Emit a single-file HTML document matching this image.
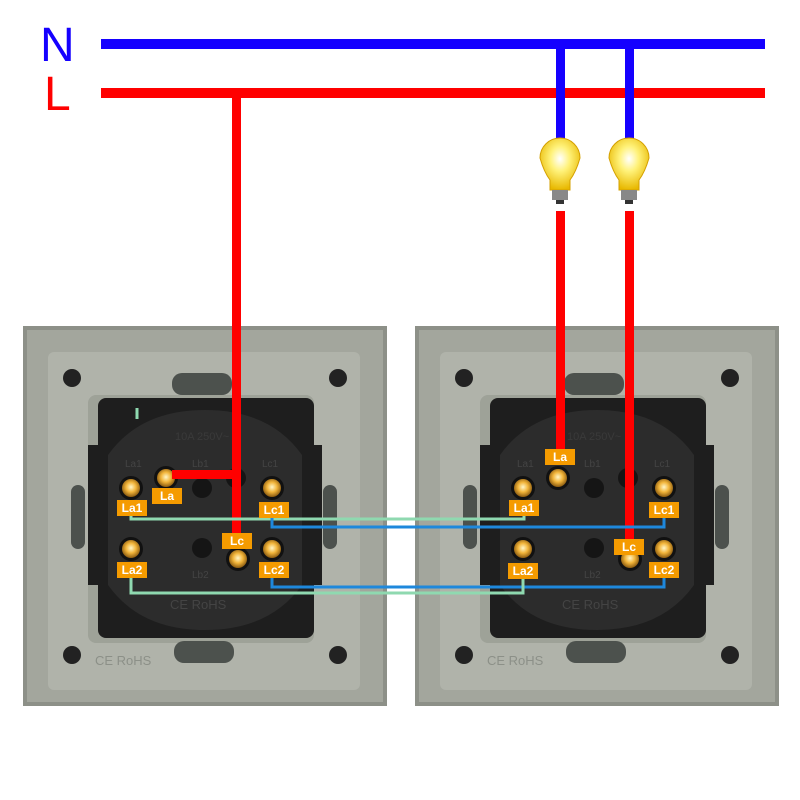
<!DOCTYPE html>
<html><head><meta charset="utf-8"><style>
html,body{margin:0;padding:0;background:#fff;}
svg{display:block;}
</style></head><body>
<svg width="800" height="800" viewBox="0 0 800 800" xmlns="http://www.w3.org/2000/svg" font-family="Liberation Sans, sans-serif">
<defs>
<radialGradient id="scr" cx="50%" cy="45%" r="55%"><stop offset="0" stop-color="#fff6c8"/><stop offset="0.5" stop-color="#f2b53a"/><stop offset="1" stop-color="#8a5a10"/></radialGradient>
<radialGradient id="bulb" cx="50%" cy="40%" r="60%"><stop offset="0" stop-color="#ffffff"/><stop offset="0.4" stop-color="#fff27a"/><stop offset="1" stop-color="#e8b800"/></radialGradient>
<g id="panel">
  <rect x="23" y="326" width="364" height="380" fill="#8d9088"/>
  <rect x="27" y="330" width="356" height="372" fill="#a3a69d"/>
  <rect x="48" y="352" width="312" height="338" rx="6" fill="#b0b3aa"/>
  <rect x="88" y="395" width="226" height="248" rx="8" fill="#9ea298"/>
  <circle cx="72" cy="378" r="9" fill="#222"/>
  <circle cx="338" cy="378" r="9" fill="#222"/>
  <circle cx="72" cy="655" r="9" fill="#222"/>
  <circle cx="338" cy="655" r="9" fill="#222"/>
  <rect x="172" y="373" width="60" height="22" rx="10" fill="#4c514d"/>
  <rect x="174" y="641" width="60" height="22" rx="10" fill="#4c514d"/>
  <rect x="71" y="485" width="14" height="64" rx="7" fill="#4c514d"/>
  <rect x="323" y="485" width="14" height="64" rx="7" fill="#4c514d"/>
  <rect x="98" y="398" width="216" height="240" rx="8" fill="#1e1e1e"/>
  <rect x="88" y="445" width="12" height="140" fill="#1e1e1e"/>
  <rect x="310" y="445" width="12" height="140" fill="#1e1e1e"/>
  <path d="M108 455 Q140 410 205 410 Q270 410 302 455 L302 585 Q270 630 205 630 Q140 630 108 585 Z" fill="#2c2c2c"/>
  <text x="175" y="440" font-size="11" fill="#3a3a3a">10A 250V~</text>
  <text x="125" y="467" font-size="10" fill="#444">La1</text>
  <text x="192" y="467" font-size="10" fill="#444">Lb1</text>
  <text x="262" y="467" font-size="10" fill="#444">Lc1</text>
  <text x="192" y="578" font-size="10" fill="#444">Lb2</text>
  <text x="170" y="609" font-size="13" fill="#444">CE RoHS</text>
  <text x="95" y="665" font-size="13" fill="#8c9088">CE RoHS</text>
  <circle cx="202" cy="488" r="10" fill="#151515"/>
  <circle cx="202" cy="548" r="10" fill="#151515"/>
  <circle cx="236" cy="478" r="10" fill="#151515"/>
  <circle cx="131" cy="488" r="12" fill="#111"/><circle cx="131" cy="488" r="9" fill="url(#scr)"/>
  <circle cx="166" cy="478" r="12" fill="#111"/><circle cx="166" cy="478" r="9" fill="url(#scr)"/>
  <circle cx="272" cy="488" r="12" fill="#111"/><circle cx="272" cy="488" r="9" fill="url(#scr)"/>
  <circle cx="131" cy="549" r="12" fill="#111"/><circle cx="131" cy="549" r="9" fill="url(#scr)"/>
  <circle cx="238" cy="559" r="12" fill="#111"/><circle cx="238" cy="559" r="9" fill="url(#scr)"/>
  <circle cx="272" cy="549" r="12" fill="#111"/><circle cx="272" cy="549" r="9" fill="url(#scr)"/>
</g>
<g id="bulbg">
  <path d="M-20 -12 A20 20 0 1 1 20 -12 Q16 2 10 10 L10 20 L-10 20 L-10 10 Q-16 2 -20 -12 Z" fill="url(#bulb)" stroke="#d4a000" stroke-width="1"/>
  <rect x="-8" y="20" width="16" height="10" fill="#888"/>
  <rect x="-4" y="30" width="8" height="4" fill="#333"/>
</g>
</defs>

<text x="40" y="61" font-size="48" fill="#1500ff">N</text>
<text x="44" y="110" font-size="48" fill="#ff0000">L</text>

<use href="#panel"/>
<use href="#panel" x="392"/>

<rect x="101" y="39" width="664" height="10" fill="#1500ff"/>
<rect x="101" y="88" width="664" height="10" fill="#ff0000"/>
<rect x="556" y="44" width="9" height="100" fill="#1500ff"/>
<rect x="625" y="44" width="9" height="100" fill="#1500ff"/>
<use href="#bulbg" x="560" y="170"/>
<use href="#bulbg" x="629" y="170"/>

<rect x="232" y="93" width="9" height="440" fill="#ff0000"/>
<rect x="172" y="470" width="66" height="9" fill="#ff0000"/>
<rect x="556" y="211" width="9" height="240" fill="#ff0000"/>
<rect x="625" y="211" width="9" height="328" fill="#ff0000"/>

<g fill="none" stroke-width="3">
  <polyline points="131,516 131,519 524,519 524,516" stroke="#8fd9b0"/>
  <polyline points="272,517 272,527 664,527 664,517" stroke="#1e88dc"/>
  <polyline points="272,578 272,587 664,587 664,578" stroke="#1e88dc"/>
  <polyline points="131,578 131,593 523,593 523,578" stroke="#8fd9b0"/>
  <line x1="137" y1="408" x2="137" y2="419" stroke="#8fd9b0"/>
</g>

<g font-size="12" font-weight="bold" fill="#fff" text-anchor="middle">
  <rect x="117" y="500" width="30" height="16" fill="#f59b00"/><text x="132" y="512">La1</text>
  <rect x="152" y="488" width="30" height="16" fill="#f59b00"/><text x="167" y="500">La</text>
  <rect x="259" y="502" width="30" height="16" fill="#f59b00"/><text x="274" y="514">Lc1</text>
  <rect x="222" y="533" width="30" height="16" fill="#f59b00"/><text x="237" y="545">Lc</text>
  <rect x="117" y="562" width="30" height="16" fill="#f59b00"/><text x="132" y="574">La2</text>
  <rect x="259" y="562" width="30" height="16" fill="#f59b00"/><text x="274" y="574">Lc2</text>

  <rect x="509" y="500" width="30" height="16" fill="#f59b00"/><text x="524" y="512">La1</text>
  <rect x="545" y="449" width="30" height="16" fill="#f59b00"/><text x="560" y="461">La</text>
  <rect x="649" y="502" width="30" height="16" fill="#f59b00"/><text x="664" y="514">Lc1</text>
  <rect x="614" y="539" width="30" height="16" fill="#f59b00"/><text x="629" y="551">Lc</text>
  <rect x="508" y="563" width="30" height="16" fill="#f59b00"/><text x="523" y="575">La2</text>
  <rect x="649" y="562" width="30" height="16" fill="#f59b00"/><text x="664" y="574">Lc2</text>
</g>
</svg>
</body></html>
